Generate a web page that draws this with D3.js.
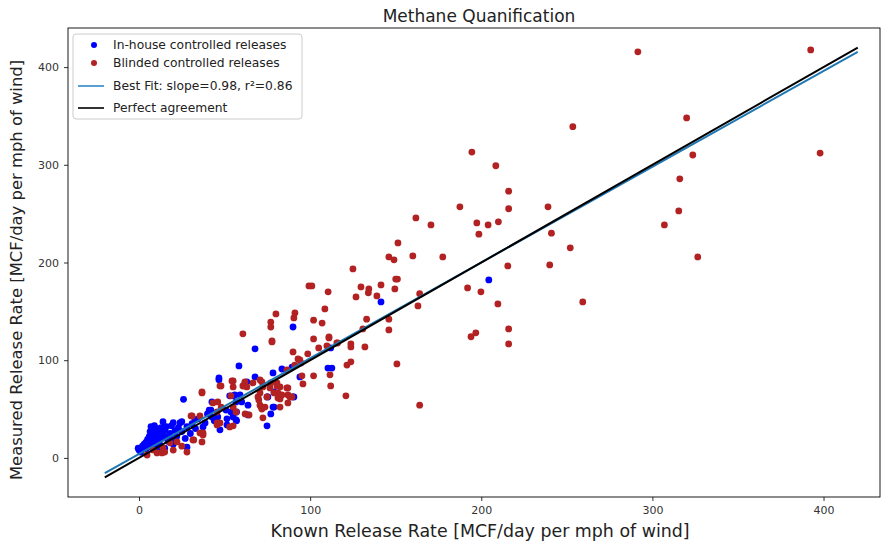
<!DOCTYPE html>
<html><head><meta charset="utf-8">
<script src="https://cdn.jsdelivr.net/npm/d3@7"></script>
<style>body{margin:0;background:#fff}text{font-family:"DejaVu Sans",sans-serif}</style>
</head><body><svg id="c" width="882" height="541"></svg>
<script>
const inHouse = [[0,8],[-0.5,10],[1,6],[2,12],[3,14],[3.5,13],[4,9],[4,16],[5,11],[5,19],[6,14],[6,22],[6.5,27],[7,20],[7,32],[7.5,17],[8,24],[8.5,29],[9,33],[9,12],[10,26],[10,18],[10.5,22],[11,30],[11,8],[12,14],[12.5,27],[13,31],[13,20],[14,37],[14,24],[15,28],[15,10],[16,32],[16,21],[17,17],[18,25],[19,33],[19,19],[20,36],[20,14],[21,28],[22,22],[23,31],[24,36],[25,27],[25,37],[26,60],[27,20],[28,32],[28,11],[30,25],[31,35],[33,30],
[32.7,38.9],[34.5,40],[37.4,31.7],[38.6,35.8],[40,45],[41,49],[42,49],[42.6,42],[42.6,57.3],[44,38],[46,42],[46.7,80],[46.7,81.9],[47.3,28.7],[50.8,49],[51.4,40],[51.4,33.8],[53,63.5],[53.7,47],[55,63.5],[55,42],[56,64.5],[56.7,57.3],[56.7,38.9],[57,47],[57,38],[58.4,94.2],[59,64.5],[60,57.3],[61.9,76.8],[63,77.8],[63.7,44],[63.7,54],[67.8,111.6],[67.8,82.9],[74.8,62.4],[74.8,32.8],[75.3,62.4],[77,45],[78.3,87],[78.3,52],[78.9,67.6],[78.9,52],[83.5,91],[89.4,93],[90,134],[90,62.4],[90.5,62.4],[94,82.9],[110.4,92],[112.7,92],[112,112.6],[141.4,159.7],[204.4,182.2]];
const blinded = [[4.7,3],[8.2,8.2],[10.5,5.1],[13.4,5.1],[14,10.2],[15,6],[18.1,15.4],[20,8],[22.2,16.4],[25,12],[28,6],[30.4,43],[31,43],[31.5,18.4],[32,18.4],[35.6,25.6],[35.6,43],[36.8,16.4],[36.8,66.5],[37.4,23.5],[37.4,25.6],[36.8,67.6],[43.2,56.3],[45.6,47],[45.6,33.8],[45.6,35.8],[46,57.3],[47.3,73.7],[47.3,35.8],[48,52],[47.9,73.7],[53,31.7],[53.7,63.5],[54.3,78.8],[55,78.8],[55,52],[55,32.8],[55,72.7],[56.7,47],[60.7,127],[60.7,73.7],[61.3,73.7],[61.9,77.8],[62,45],[63,72.7],[64.3,44],[66.6,76.8],[69.5,62.4],[70,59.4],[70.7,79.8],[70.7,66.5],[70.7,54],[71.3,52],[71.8,77.8],[71.8,50],[72.4,72.7],[72.4,41],[73.6,52],[74.8,62.4],[76.5,71.6],[77,139],[77,134],[77,76.8],[77.7,119.8],[77.7,118.7],[78.9,66.5],[80,147.4],[80.6,76.8],[80.6,73.7],[81.2,66.5],[81.2,61.4],[82.4,72.7],[82.4,60.4],[82.4,52],[83.5,64.5],[86.4,90],[86.4,71.6],[87,71.6],[87,64.5],[87,56.3],[88.2,62.4],[89.4,62.4],[90,108.5],[90.5,143.3],[91,95],[91.1,148.4],[92.9,101.3],[94,100.3],[94.6,97.2],[95.2,84],[95.8,75.7],[98.6,106.5],[99.3,176],[101,176],[102,141],[102,121.8],[102,84],[105,112.6],[107,138],[108.6,152.5],[110.5,170],[111,122.8],[111,123.8],[109.8,114.6],[111.6,85],[112,73.7],[115.6,117.7],[116,117.7],[120.9,63.5],[121.5,95],[123.8,116.7],[123.8,113.6],[123.8,98.3],[125,193.4],[126.8,164.8],[129.7,175],[130.8,132],[132,113.6],[133,142],[134,169],[134.3,173],[139,165.8],[141.4,177],[146,205.7],[146,142],[146,131],[149,202.7],[149.5,173],[150,183],[151,183],[150.7,96.2],[151.3,220],[160,206.7],[161.8,245.6],[163,155.6],[164,168],[164,54],[170.6,238.5],[177.5,205.7],[187.5,257],[192,174],[194,124],[194.5,313],[196.8,128],[197.4,240.5],[198.6,229],[199.8,170],[204,238.5],[208.5,299],[209.7,157.6],[210,241.6],[215.5,196.5],[216,273],[216,255],[216,132],[216,116.7],[239,257],[240,197.5],[241,230],[252,215],[253.5,339],[259.3,159.7],[291.5,415.6],[307,238.5],[315.4,252.8],[316,285.6],[320,348],[323.6,310],[326.5,205.7],[392.5,417.6],[398,312]];
const lineX = [-20, 420];
const fitSlope = 0.98, fitIntercept = 4;
const xTicks = [0,100,200,300,400];
const yTicks = [0,100,200,300,400];
const legendLabels = ["In-house controlled releases","Blinded controlled releases","Best Fit: slope=0.98, r\u00B2=0.86","Perfect agreement"];

const svg = d3.select("#c");
const L=68, R=880, T=28, B=497;
const x = d3.scaleLinear().domain([-41.5,433]).range([L,R]);
const y = d3.scaleLinear().domain([-40,440]).range([B,T]);

const plot = svg.append("g");
plot.append("defs").append("clipPath").attr("id","clip").append("rect").attr("x",L).attr("y",T).attr("width",R-L).attr("height",B-T);
const g = plot.append("g").attr("clip-path","url(#clip)");

g.selectAll("circle.b").data(inHouse).join("circle").attr("class","b")
 .attr("cx",d=>x(d[0])).attr("cy",d=>y(d[1])).attr("r",3.4).attr("fill","#0000ff");
g.selectAll("circle.r").data(blinded).join("circle").attr("class","r")
 .attr("cx",d=>x(d[0])).attr("cy",d=>y(d[1])).attr("r",3.4).attr("fill","#b22222");

const line = d3.line().x(d=>x(d[0])).y(d=>y(d[1]));
g.append("path").attr("d",line(lineX.map(v=>[v,fitSlope*v+fitIntercept]))).attr("stroke","#1f77b4").attr("stroke-width",2).attr("fill","none");
g.append("path").attr("d",line(lineX.map(v=>[v,v]))).attr("stroke","#000").attr("stroke-width",2).attr("fill","none");

// axes
const xa = svg.append("g").attr("transform",`translate(0,${B})`).call(d3.axisBottom(x).tickValues(xTicks).tickSize(4).tickPadding(5).tickFormat(d3.format("d")));
const ya = svg.append("g").attr("transform",`translate(${L},0)`).call(d3.axisLeft(y).tickValues(yTicks).tickSize(4).tickPadding(5).tickFormat(d3.format("d")));
[xa,ya].forEach(a=>{a.select(".domain").remove();a.selectAll("text").attr("font-size",11).attr("fill","#333").attr("font-family","DejaVu Sans");a.selectAll("line").attr("stroke","#333");});
svg.append("rect").attr("x",L).attr("y",T).attr("width",R-L).attr("height",B-T).attr("fill","none").attr("stroke","#000").attr("stroke-width",0.9);

svg.append("text").attr("x",479).attr("y",22).attr("text-anchor","middle").attr("font-size",17).attr("fill","#222").text("Methane Quanification");
svg.append("text").attr("x",480).attr("y",537).attr("text-anchor","middle").attr("font-size",17.4).attr("fill","#222").text("Known Release Rate [MCF/day per mph of wind]");
svg.append("text").attr("transform",`translate(22,270) rotate(-90)`).attr("text-anchor","middle").attr("font-size",16.4).attr("fill","#222").text("Measured Release Rate [MCF/day per mph of wind]");

// legend
const lg = svg.append("g");
lg.append("rect").attr("x",73).attr("y",34).attr("width",229).attr("height",85).attr("rx",3).attr("fill","#fff").attr("fill-opacity",0.85).attr("stroke","#ccc");
const rows=[45,63,86,108];
lg.append("circle").attr("cx",94).attr("cy",rows[0]).attr("r",3).attr("fill","#0000ff");
lg.append("circle").attr("cx",94).attr("cy",rows[1]).attr("r",3).attr("fill","#b22222");
lg.append("line").attr("x1",78).attr("x2",104).attr("y1",rows[2]).attr("y2",rows[2]).attr("stroke","#5a9fd4").attr("stroke-width",2);
lg.append("line").attr("x1",78).attr("x2",104).attr("y1",rows[3]).attr("y2",rows[3]).attr("stroke","#333").attr("stroke-width",2);
legendLabels.forEach((t,i)=>lg.append("text").attr("x",113).attr("y",rows[i]+4).attr("font-size",12.3).attr("fill","#222").text(t));
</script></body></html>
